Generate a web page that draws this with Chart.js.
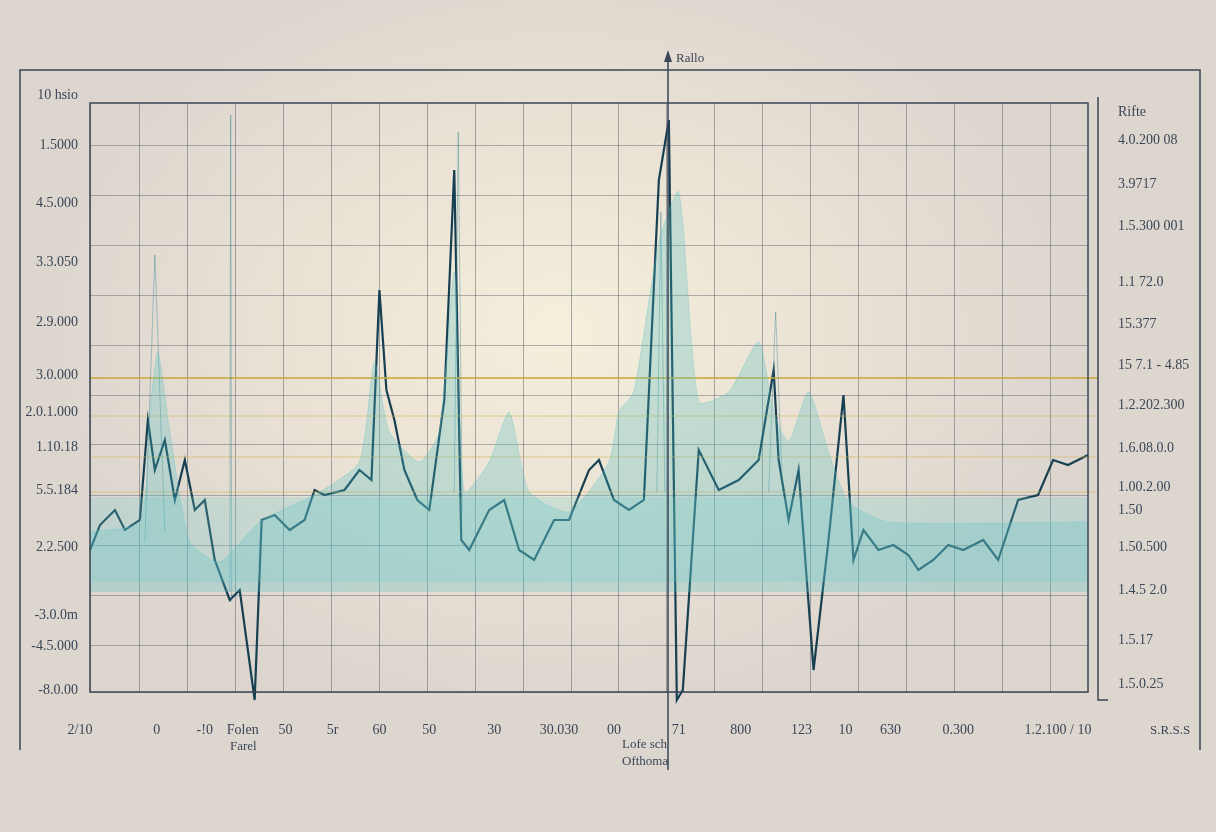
<!DOCTYPE html>
<html>
<head>
<meta charset="utf-8">
<script src="https://cdn.jsdelivr.net/npm/chart.js@4.4.0/dist/chart.umd.min.js"></script>
<style>
  html, body { margin: 0; padding: 0; }
  body {
    width: 1216px; height: 832px; overflow: hidden;
    background: radial-gradient(ellipse 520px 380px at 560px 330px, #f5efdc 0%, #e9e1d4 55%, #ddd6cf 100%);
  }
  #wrap { position: relative; width: 1216px; height: 832px; }
</style>
</head>
<body>
<div id="wrap"><canvas id="chart" width="1216" height="832"></canvas></div>
<script>
// main dark trace
const traceX = [0,10,25,35,50,58,65,75,85,95,105,115,125,140,150,165,172,185,200,215,225,235,255,270,282,290,297,305,315,328,340,355,365,372,380,400,415,430,445,465,480,500,510,525,540,555,570,580,588,594,610,630,650,670,685,690,700,710,725,740,755,765,775,790,805,820,830,845,860,875,895,910,930,950,965,980,1000];
const traceY = [142,167,182,162,172,272,222,252,192,232,182,192,132,92,102,-8,172,177,162,172,202,197,202,222,212,402,302,272,222,192,182,292,522,152,142,182,192,142,132,172,172,222,232,192,182,192,512,572,-8,2,242,202,212,232,322,232,172,222,22,152,297,132,162,142,147,137,122,132,147,142,152,132,192,197,232,227,237];

// translucent teal cloud
const cloudX = [0,50,60,68,80,100,130,170,230,270,285,300,330,350,365,375,400,420,440,480,520,530,545,570,590,610,640,670,685,700,720,740,760,800,1000];
const cloudY = [160,170,280,340,260,150,130,170,200,230,330,260,230,260,420,200,230,280,200,180,230,280,300,450,500,290,300,350,280,250,300,240,190,170,170];

// faint thin spikes (null = break)
const faintX = [55,65,75,null,140,141,142,null,365,369,373,null,568,572,576,null,680,687,694];
const faintY = [150,437,160,null,100,577,90,null,200,560,180,null,200,480,200,null,200,380,200];

const bandTop = 195, bandBottom = 110;
const refLevels = [314, 276, 235, 200];

const leftTicks = [597,547,489,430,370,317,280,245,202,145,77,46,2];
const leftLabels = ['10 hsio','1.5000','4.5.000','3.3.050','2.9.000','3.0.000','2.0.1.000','1.10.18','5.5.184','2.2.500','-3.0.0m','-4.5.000','-8.0.00'];
const rightTicks = [580,552,508,466,410,368,327,287,244,205,182,145,102,52,8];
const rightLabels = ['Rifte','4.0.200 08','3.9717','1.5.300 001','1.1 72.0','15.377','15 7.1 - 4.85','1.2.202.300','1.6.08.0.0','1.00.2.00','1.50','1.50.500','1.4.5 2.0','1.5.17','1.5.0.25'];
const bottomTicks = [-10,67,115,153,196,243,290,340,405,470,525,590,652,713,757,802,870,970];
const bottomLabels = ['2/10','0','-!0','Folen','50','5r','60','50','30','30.030','00','71','800','123','10','630','0.300','1.2.100 / 10'];

const pts = (xs, ys) => xs.map((x, i) => (x === null ? { x: NaN, y: NaN } : { x: x, y: ys[i] }));
const teal = '#163f52';

const datasets = [
  { data: [{x:0,y:bandTop},{x:1000,y:bandTop}], borderWidth: 0, pointRadius: 0,
    fill: { value: bandBottom }, backgroundColor: 'rgba(110,205,205,0.25)' },
  { data: pts(cloudX, cloudY), borderColor: 'rgba(100,195,200,0.35)', borderWidth: 1, pointRadius: 0,
    fill: { value: 100 }, backgroundColor: 'rgba(80,190,195,0.28)', tension: 0.2 },
  { data: pts(faintX, faintY), borderColor: 'rgba(50,130,145,0.4)', borderWidth: 1, pointRadius: 0, fill: false, spanGaps: false },
];
refLevels.forEach((v, i) => datasets.push({
  data: [{x:0,y:v},{x:1010,y:v}], borderColor: i === 0 ? 'rgba(200,170,60,0.8)' : 'rgba(210,180,90,0.6)',
  borderWidth: i === 0 ? 2 : 1.2, pointRadius: 0, fill: false
}));
datasets.push({ data: pts(traceX, traceY), borderColor: teal, borderWidth: 2.2, pointRadius: 0, fill: false });

const frame = {
  id: 'frame',
  afterDraw(chart) {
    const c = chart.ctx, a = chart.chartArea;
    c.save();
    c.strokeStyle = '#3a4656'; c.lineWidth = 1.5;
    c.strokeRect(a.left, a.top, a.right - a.left, a.bottom - a.top);
    c.beginPath();
    c.moveTo(20, 750); c.lineTo(20, 70); c.lineTo(1200, 70); c.lineTo(1200, 750);
    c.moveTo(1098, 97); c.lineTo(1098, 700); c.lineTo(1108, 700);
    c.moveTo(668, 55); c.lineTo(668, 770);
    c.stroke();
    c.fillStyle = '#3a4656';
    c.beginPath(); c.moveTo(664, 62); c.lineTo(668, 50); c.lineTo(672, 62); c.fill();
    c.font = '13px "Liberation Serif"'; c.fillStyle = '#3a4656';
    c.fillText('Rallo', 676, 62);
    c.fillText('Farel', 230, 750);
    c.fillText('Lofe sch', 622, 748);
    c.fillText('Ofthoma', 622, 765);
    c.fillText('S.R.S.S', 1150, 734);
    c.restore();
  }
};

const fixedTicks = (vals) => (scale) => { scale.ticks = vals.map(v => ({ value: v })); };
const labelFrom = (vals, labels) => (v) => { const i = vals.indexOf(v); return i >= 0 ? labels[i] : ''; };
const tickFont = { family: 'Liberation Serif', size: 14 };

new Chart(document.getElementById('chart'), {
  type: 'scatter',
  data: { datasets: datasets.map(d => Object.assign({ showLine: true, clip: false }, d)) },
  plugins: [frame],
  options: {
    responsive: false, animation: false,
    layout: { padding: { top: 103 } },
    plugins: { legend: { display: false }, tooltip: { enabled: false } },
    scales: {
      x: { type: 'linear', min: 0, max: 1000, position: 'bottom',
        afterBuildTicks: fixedTicks([0,50,98,146,194,242,290,338,386,434,482,530,578,626,674,722,770,818,866,914,962]),
        grid: { color: 'rgba(70,80,95,0.45)', drawTicks: false }, border: { display: false },
        ticks: { display: false }, afterFit: s => { s.height = 0; } },
      xb: { type: 'linear', min: 0, max: 1000, position: 'bottom',
        afterBuildTicks: fixedTicks(bottomTicks), grid: { display: false }, border: { display: false },
        ticks: { color: '#3a4656', font: tickFont, autoSkip: false, maxRotation: 0, padding: 22,
          callback: labelFrom(bottomTicks, bottomLabels) },
        afterFit: s => { s.height = 140; } },
      y: { type: 'linear', min: 0, max: 589, position: 'left',
        afterBuildTicks: fixedTicks([0,47,97,147,197,247,297,347,397,447,497,547]),
        grid: { color: 'rgba(70,80,95,0.4)', drawTicks: false }, border: { display: false },
        ticks: { display: false }, afterFit: s => { s.width = 0; } },
      yl: { type: 'linear', min: 0, max: 589, position: 'left',
        afterBuildTicks: fixedTicks(leftTicks), grid: { display: false }, border: { display: false },
        ticks: { color: '#3a4656', font: tickFont, autoSkip: false, padding: 4,
          callback: labelFrom(leftTicks, leftLabels) },
        afterFit: s => { s.width = 90; } },
      yr: { type: 'linear', min: 0, max: 589, position: 'right',
        afterBuildTicks: fixedTicks(rightTicks), grid: { display: false }, border: { display: false },
        ticks: { color: '#3a4656', font: tickFont, autoSkip: false, padding: 22,
          callback: labelFrom(rightTicks, rightLabels) },
        afterFit: s => { s.width = 128; } }
    }
  }
});
</script>
</body>
</html>
